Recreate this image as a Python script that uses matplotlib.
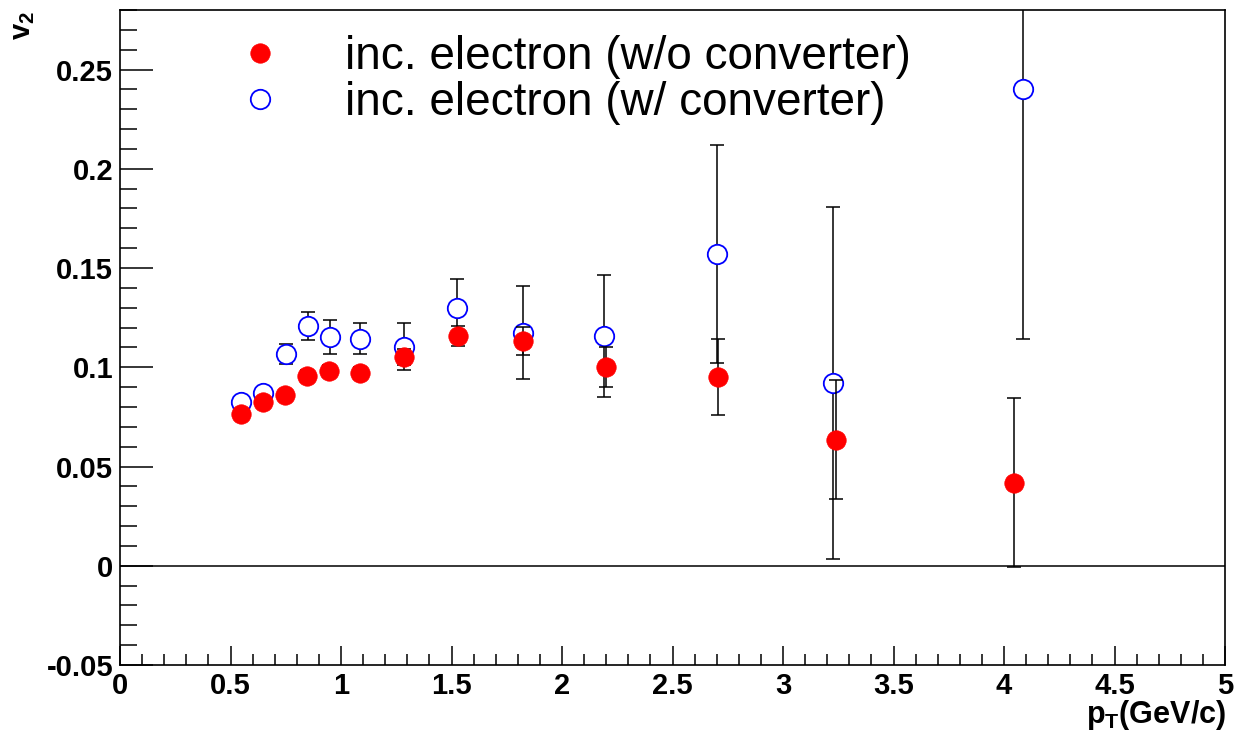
import matplotlib
matplotlib.use("Agg")
import matplotlib.pyplot as plt
from matplotlib.ticker import MultipleLocator, FixedLocator, FixedFormatter
from matplotlib.lines import Line2D

plt.rcParams['font.family'] = ['Liberation Sans', 'DejaVu Sans']
plt.rcParams['mathtext.fontset'] = 'custom'
plt.rcParams['mathtext.rm'] = 'Liberation Sans'
plt.rcParams['mathtext.bf'] = 'Liberation Sans:bold'
plt.rcParams['axes.unicode_minus'] = False

# --- data: inclusive electron v2 without converter (red, filled)
pt_noconv = [0.548, 0.647, 0.747, 0.846, 0.946, 1.086, 1.285, 1.529, 1.824, 2.199, 2.706, 3.240, 4.045]
v2_noconv = [0.0765, 0.0826, 0.0861, 0.0957, 0.0982, 0.0972, 0.1052, 0.1158, 0.1133, 0.1002, 0.0952, 0.0634, 0.0418]
err_noconv = [0.002, 0.002, 0.002, 0.003, 0.003, 0.003, 0.004, 0.005, 0.007, 0.0102, 0.019, 0.030, 0.0425]

# --- data: inclusive electron v2 with converter (blue, open)
pt_conv = [0.548, 0.647, 0.751, 0.851, 0.950, 1.086, 1.285, 1.525, 1.824, 2.190, 2.701, 3.226, 4.086]
v2_conv = [0.0826, 0.0871, 0.1067, 0.1208, 0.1153, 0.1143, 0.1103, 0.1299, 0.1173, 0.1158, 0.1571, 0.0921, 0.2402]
err_conv = [0.002, 0.002, 0.005, 0.007, 0.0087, 0.0078, 0.0118, 0.0144, 0.0234, 0.0307, 0.055, 0.0886, 0.126]

labels = ["inc. electron (w/o converter)", "inc. electron (w/ converter)"]
ytick_vals = [-0.05, 0, 0.05, 0.1, 0.15, 0.2, 0.25]
ytick_labels = ["-0.05", "0", "0.05", "0.1", "0.15", "0.2", "0.25"]
xtick_vals = [0, 0.5, 1, 1.5, 2, 2.5, 3, 3.5, 4, 4.5, 5]
xtick_labels = ["0", "0.5", "1", "1.5", "2", "2.5", "3", "3.5", "4", "4.5", "5"]

W, H = 1234, 734
fig = plt.figure(figsize=(W / 100, H / 100), dpi=100)
ax = fig.add_axes([120 / W, (H - 665) / H, 1105 / W, 655 / H])
ax.set_xlim(0, 5)
ax.set_ylim(-0.05, 0.28)

ax.axhline(0, color='black', lw=1.1, zorder=1)

MS = 14
ax.errorbar(pt_conv, v2_conv, yerr=err_conv, fmt='none', ecolor='black',
            elinewidth=1.1, capsize=5, capthick=1.1, zorder=2)
ax.plot(pt_conv, v2_conv, ls='none', marker='o', ms=MS, mfc='white',
        mec='#0000ff', mew=1.3, zorder=3)
ax.errorbar(pt_noconv, v2_noconv, yerr=err_noconv, fmt='none', ecolor='black',
            elinewidth=1.1, capsize=5, capthick=1.1, zorder=4)
ax.plot(pt_noconv, v2_noconv, ls='none', marker='o', ms=MS, mfc='#ff0000',
        mec='#ff0000', mew=0.5, zorder=5)

# ticks
ax.xaxis.set_major_locator(FixedLocator(xtick_vals))
ax.xaxis.set_major_formatter(FixedFormatter(xtick_labels))
ax.xaxis.set_minor_locator(MultipleLocator(0.1))
ax.yaxis.set_major_locator(FixedLocator(ytick_vals))
ax.yaxis.set_major_formatter(FixedFormatter(ytick_labels))
ax.yaxis.set_minor_locator(MultipleLocator(0.01))
ax.tick_params(axis='both', which='both', direction='in', top=False, right=False,
               width=1.1, colors='black')
ax.tick_params(axis='x', which='major', length=13.7, pad=5, labelsize=21)
ax.tick_params(axis='x', which='minor', length=7.6)
ax.tick_params(axis='y', which='major', length=23.8, pad=5, labelsize=21)
ax.tick_params(axis='y', which='minor', length=12.5)
for lab in ax.get_xticklabels() + ax.get_yticklabels():
    lab.set_fontweight('bold')
for sp in ax.spines.values():
    sp.set_linewidth(1.2)

# axis titles
fig.text(23 / W, 1 - 11 / H, r'$\mathbf{v_{2}}$', rotation=90, ha='center', va='top', fontsize=21)
fig.text(1226 / W, 1 - 732 / H, r'$\mathbf{p_{T}}$(GeV/c)', ha='right', va='bottom',
         fontsize=22, fontweight='bold')

# legend
handles = [
    Line2D([], [], ls='none', marker='o', ms=MS, mfc='#ff0000', mec='#ff0000', mew=0.5),
    Line2D([], [], ls='none', marker='o', ms=MS, mfc='white', mec='#0000ff', mew=1.3),
]
fs = 33
fs_px = fs * 100 / 72
ax.legend(handles, labels, loc='upper left',
          bbox_to_anchor=((260 - fs_px / 2) / W, 1 - 35 / H), bbox_transform=fig.transFigure,
          frameon=False, fontsize=fs, handlelength=1.0,
          handletextpad=(345 - 260 - fs_px / 2) / fs_px,
          labelspacing=0.05, borderpad=0, borderaxespad=0)

fig.savefig("out.png", dpi=100)
